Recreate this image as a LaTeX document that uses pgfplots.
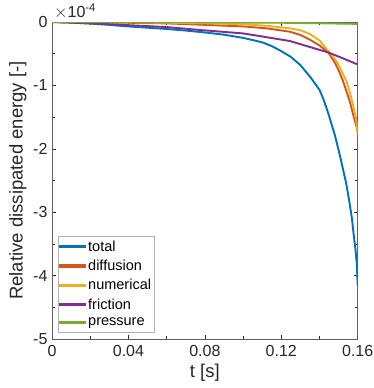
\documentclass[border=0pt]{standalone}
\usepackage{pgfplots}
\pgfplotsset{compat=1.18}
\usepackage{fontspec}
\setmainfont{Liberation Sans}

% MATLAB default line colours
\definecolor{mblue}{rgb}{0,0.447,0.741}
\definecolor{mred}{rgb}{0.850,0.325,0.098}
\definecolor{myellow}{rgb}{0.929,0.694,0.125}
\definecolor{mpurple}{rgb}{0.494,0.184,0.556}
\definecolor{mgreen}{rgb}{0.466,0.674,0.188}
\definecolor{axgray}{rgb}{0.15,0.15,0.15}

\begin{document}
\begin{tikzpicture}[x=1pt,y=1pt]
\useasboundingbox (0,0) rectangle (374,388);
\begin{axis}[
    name=ax,
    at={(52pt,49pt)}, anchor=south west,
    scale only axis,
    width=305.7pt, height=317pt,
    xmin=0, xmax=0.16, ymin=-5, ymax=0,
    xtick={0,0.04,0.08,0.12,0.16},
    xticklabels={0,0.04,0.08,0.12,0.16},
    minor xtick={0.02,0.06,0.10,0.14},
    ytick={-5,-4,-3,-2,-1,0},
    yticklabels={-5,-4,-3,-2,-1,0},
    minor ytick={-4.5,-3.5,-2.5,-1.5,-0.5},
    tick align=inside,
    major tick length=3.5pt, minor tick length=2.5pt,
    tick style={axgray, line width=0.5pt},
    axis line style={gray!75!black, line width=0.6pt},
    tick label style={font=\fontsize{16}{18}\selectfont, text=axgray},
    label style={font=\fontsize{18.5}{21}\selectfont, text=axgray},
    xticklabel style={yshift=-3pt},
    yticklabel style={xshift=-1pt},
    xlabel={t [s]},
    ylabel={Relative dissipated energy [-]},
    legend cell align=left,
    legend style={
        at={(0.02,0.022)}, anchor=south west,
        draw=gray!60, fill=white,
        font=\fontsize{14.5}{16}\selectfont,
        inner xsep=1pt, inner ysep=2.5pt,
        row sep=3.3pt
    },
    legend image code/.code={\fill[#1] (0pt,-0.7pt) rectangle (25pt,0.7pt);},
]

% total
\addplot[mblue, line width=1.9pt] coordinates {
    (0,0) (0.01,-0.01) (0.02,-0.025) (0.03,-0.045) (0.04,-0.07)
    (0.05,-0.09) (0.06,-0.11) (0.07,-0.135) (0.08,-0.165) (0.09,-0.20)
    (0.10,-0.25) (0.11,-0.32) (0.115,-0.38) (0.12,-0.46) (0.125,-0.55)
    (0.13,-0.68) (0.135,-0.86) (0.14,-1.07) (0.142,-1.21) (0.145,-1.48)
    (0.148,-1.78) (0.150,-2.02) (0.152,-2.28) (0.154,-2.55) (0.1555,-2.81)
    (0.157,-3.10) (0.1578,-3.33) (0.1588,-3.58) (0.1595,-3.80)
    (0.16,-4.15)
};
% diffusion
\addplot[mred, line width=1.9pt] coordinates {
    (0,0) (0.02,-0.005) (0.04,-0.012) (0.06,-0.022) (0.08,-0.045)
    (0.10,-0.07) (0.1124,-0.10) (0.1245,-0.153) (0.130,-0.205)
    (0.135,-0.28) (0.14,-0.37) (0.1446,-0.48) (0.148,-0.64) (0.150,-0.76)
    (0.1524,-0.94) (0.154,-1.08) (0.156,-1.27) (0.1577,-1.47)
    (0.159,-1.61) (0.16,-1.72)
};
% numerical
\addplot[myellow, line width=1.9pt] coordinates {
    (0,0) (0.04,-0.003) (0.08,-0.02) (0.10,-0.035) (0.1124,-0.06)
    (0.1245,-0.10) (0.130,-0.13) (0.135,-0.19) (0.14,-0.29)
    (0.1455,-0.49) (0.148,-0.58) (0.150,-0.68) (0.152,-0.80)
    (0.1542,-0.94) (0.156,-1.12) (0.1575,-1.30) (0.1589,-1.50)
    (0.1595,-1.62) (0.16,-1.78)
};
% friction
\addplot[mpurple, line width=1.9pt] coordinates {
    (0,0) (0.02,-0.02) (0.04,-0.05) (0.06,-0.08) (0.0775,-0.126)
    (0.10,-0.18) (0.1124,-0.24) (0.1245,-0.30) (0.130,-0.35)
    (0.1446,-0.48) (0.152,-0.57) (0.16,-0.67)
};
% pressure
\addplot[mgreen, line width=1.9pt] coordinates {
    (0,0) (0.04,-0.002) (0.08,-0.005) (0.12,-0.012) (0.14,-0.02) (0.16,-0.03)
};

\legend{total, diffusion, numerical, friction, pressure}
\end{axis}

\node[anchor=south west, inner sep=0pt, text=axgray,
      font=\fontsize{16}{18}\selectfont]
    at ([xshift=2pt, yshift=3pt]ax.north west) {$\times$10\textsuperscript{-4}};
\end{tikzpicture}
\end{document}
